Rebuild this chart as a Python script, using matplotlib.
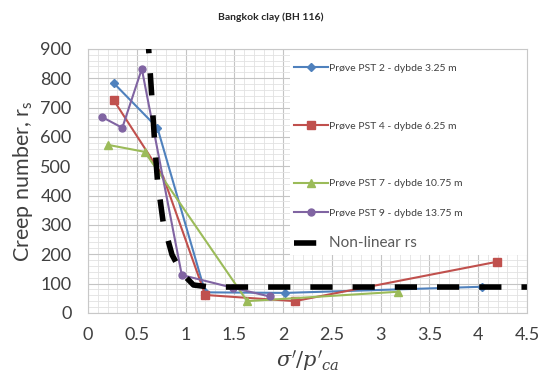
import matplotlib
matplotlib.use("Agg")
import matplotlib.pyplot as plt
from matplotlib.patches import Rectangle
from matplotlib.ticker import MultipleLocator, FuncFormatter

# data
pst2_x = [0.26, 0.71, 1.2, 2.02, 4.04]
pst2_y = [784, 631, 70, 68, 89]
pst4_x = [0.26, 0.77, 1.2, 2.12, 4.19]
pst4_y = [726, 464, 61, 40, 174]
pst7_x = [0.2, 0.58, 1.63, 3.18]
pst7_y = [573, 549, 40, 72]
pst9_x = [0.14, 0.35, 0.55, 0.96, 1.49, 1.86]
pst9_y = [668, 631, 832, 129, 85, 56]
nl_x = [0.59, 0.62, 0.65, 0.68, 0.71, 0.77, 0.86, 0.96, 1.08, 1.25, 4.5]
nl_y = [960, 900, 750, 590, 453, 307, 198, 136, 95, 88, 88]

labels = ["Prøve PST 2 - dybde 3.25 m", "Prøve PST 4 - dybde 6.25 m",
          "Prøve PST 7 - dybde 10.75 m", "Prøve PST 9 - dybde 13.75 m",
          "Non-linear rs"]

plt.rcParams['font.family'] = ['Lato', 'DejaVu Sans']
plt.rcParams['mathtext.fontset'] = 'dejavuserif'

fig = plt.figure(figsize=(5.41, 3.82), dpi=100)
ax = fig.add_axes([0.163, 0.181, 0.811, 0.691])

ax.set_xlim(0, 4.5)
ax.set_ylim(0, 900)
ax.xaxis.set_major_locator(MultipleLocator(0.5))
ax.xaxis.set_minor_locator(MultipleLocator(0.1))
ax.yaxis.set_major_locator(MultipleLocator(100))
ax.yaxis.set_minor_locator(MultipleLocator(20))
ax.xaxis.set_major_formatter(FuncFormatter(lambda v, p: f"{v:g}"))
ax.grid(which='major', color='#c4c4c4', lw=0.8, zorder=0)
ax.grid(which='minor', color='#e2e2e2', lw=0.6, zorder=0)
ax.set_axisbelow(True)
for s in ax.spines.values():
    s.set_color('#c8c8c8')
    s.set_linewidth(0.8)
ax.tick_params(which='both', length=0, labelsize=13, labelcolor='#404040')
ax.tick_params(axis='y', pad=12)
ax.tick_params(axis='x', pad=10)

# white area behind legend
ax.add_patch(Rectangle((0.46, 0.22), 0.54, 0.78, transform=ax.transAxes,
                       facecolor='white', edgecolor='none', zorder=1))

l1, = ax.plot(pst2_x, pst2_y, color='#4F81BD', lw=1.5, marker='D', ms=4, label=labels[0], zorder=3)
l2, = ax.plot(pst4_x, pst4_y, color='#C0504D', lw=1.5, marker='s', ms=5.5, markevery=[0, 2, 3, 4],
              label=labels[1], zorder=3)
l3, = ax.plot(pst7_x, pst7_y, color='#9BBB59', lw=1.5, marker='^', ms=5.5, label=labels[2], zorder=3)
l4, = ax.plot(pst9_x, pst9_y, color='#8064A2', lw=1.5, marker='o', ms=5, label=labels[3], zorder=3)
l5, = ax.plot(nl_x, nl_y, color='black', lw=4, label=labels[4], zorder=4)
l5.set_dashes([4, 3.6])

leg1 = ax.legend(handles=[l1, l2, l3], loc='upper left', bbox_to_anchor=(0.46, 0.96),
                 frameon=False, fontsize=7.5, labelspacing=4.65, handlelength=3.2,
                 handletextpad=0.1, borderaxespad=0)
for t in leg1.get_texts():
    t.set_color('#404040')
ax.add_artist(leg1)
leg2 = ax.legend(handles=[l4, l5], loc='upper left', bbox_to_anchor=(0.46, 0.41),
                 frameon=False, fontsize=7.5, labelspacing=1.7, handlelength=3.2,
                 handletextpad=0.1, borderaxespad=0)
for t in leg2.get_texts():
    t.set_color('#404040')
leg2.get_texts()[1].set_fontsize(11)
leg2.get_texts()[1].set_color('#595959')

ax.set_ylabel(r"Creep number, $\mathregular{r_s}$", fontsize=15.5, color='#404040', labelpad=4)
ax.set_xlabel(r"$\sigma'/p'_{ca}$", fontsize=15, color='#404040', labelpad=4)
fig.text(0.5, 0.955, "Bangkok clay (BH 116)", ha='center', va='center',
         fontsize=7.5, fontweight='bold', color='#262626')

fig.savefig("out.png", dpi=100)
